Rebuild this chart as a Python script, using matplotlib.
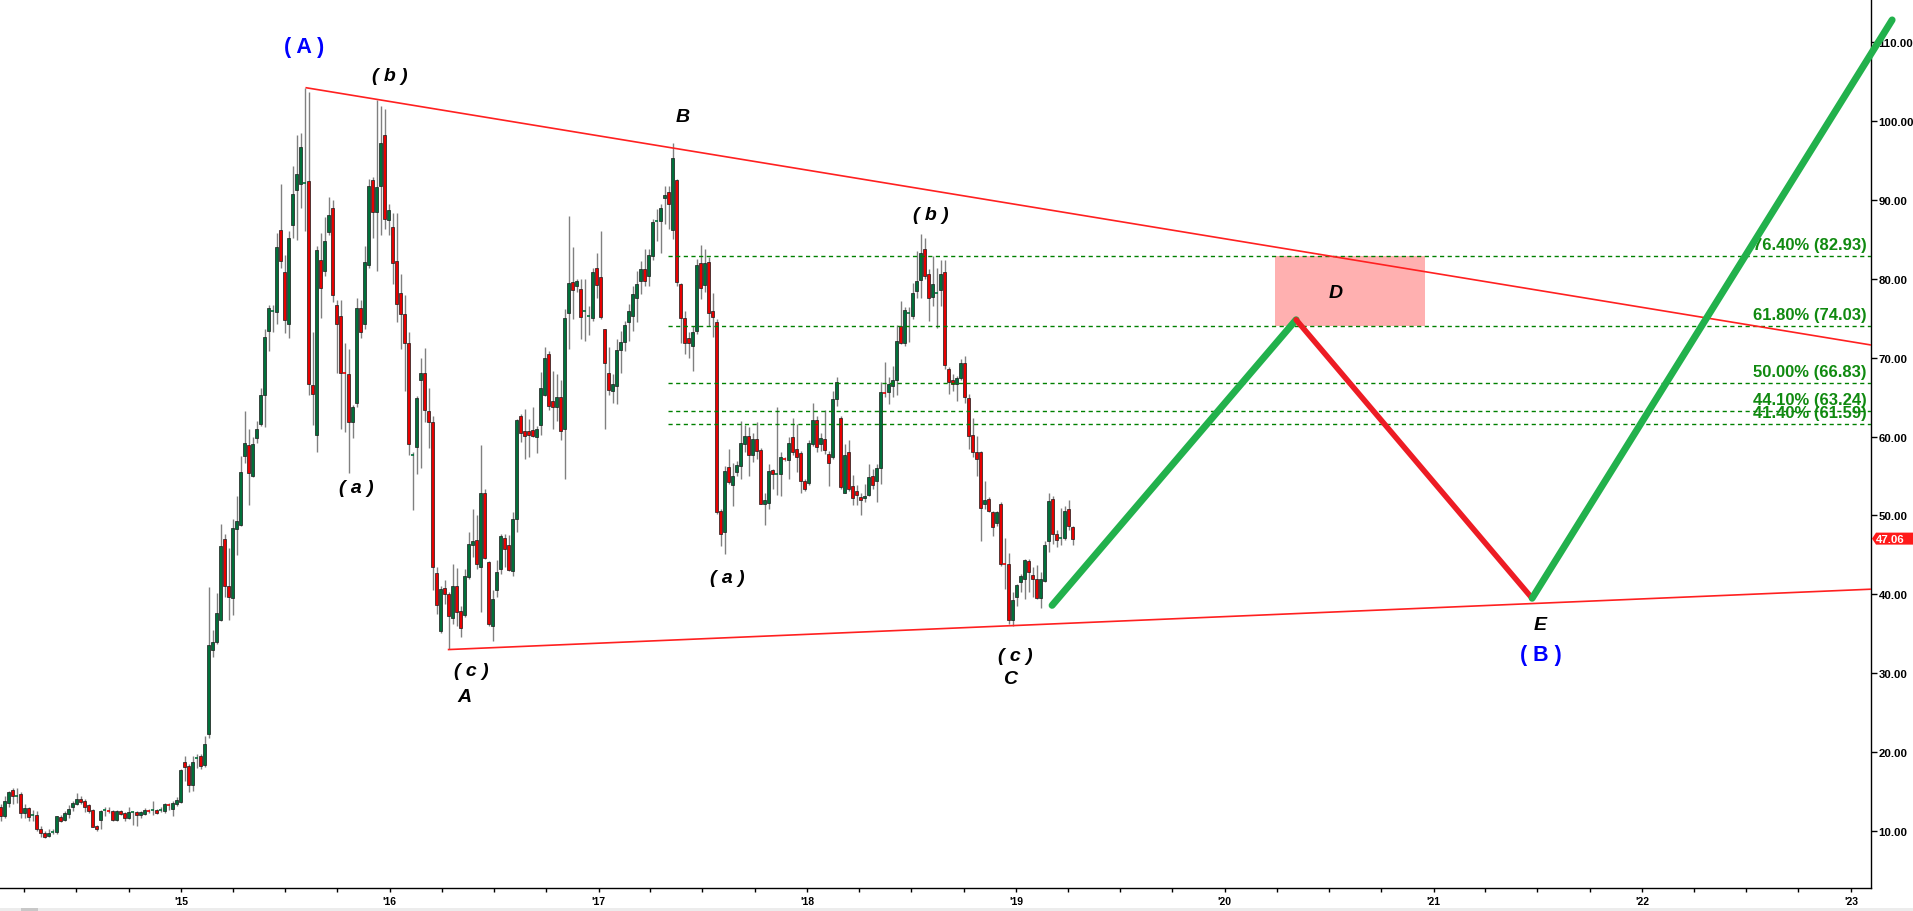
import matplotlib
matplotlib.use("Agg")
import matplotlib.pyplot as plt
import matplotlib.dates as mdates
import matplotlib.transforms as mtransforms
from matplotlib.patches import Rectangle, Polygon
import pandas as pd

plt.rcParams["font.family"] = ["Liberation Sans", "DejaVu Sans"]

# weekly candles, first one in mid Feb 2014
START = "2014-02-19"

OPEN = [
    13.0, 11.9, 13.6, 15.2, 14.4, 14.7, 12.3, 12.9, 12.0, 12.0,
    10.3, 9.8, 9.4, 9.85, 9.9, 11.8, 11.4, 12.1, 13.0, 13.4,
    14.1, 13.8, 13.3, 12.7, 10.6, 11.4, 12.6, 12.65, 12.6, 11.4,
    12.5, 12.3, 11.6, 12.4, 12.4, 12.0, 12.2, 12.6, 12.6, 12.65,
    12.6, 12.5, 13.3, 12.8, 13.4, 13.7, 18.8, 18.2, 15.8, 19.2,
    19.5, 18.4, 22.3, 33.0, 33.9, 36.8, 47.0, 41.0, 39.5, 48.3,
    48.8, 57.5, 58.9, 55.0, 59.8, 61.6, 65.3, 73.4, 75.8, 75.8,
    86.2, 80.9, 74.2, 86.8, 91.3, 92.0, 92.0, 92.4, 66.5, 60.2,
    82.4, 81.0, 85.9, 88.9, 76.7, 75.3, 68.1, 67.9, 61.9, 64.3,
    76.3, 74.2, 81.7, 92.5, 88.4, 91.7, 98.2, 87.4, 86.5, 82.2,
    78.2, 75.5, 71.9, 57.6, 58.7, 67.2, 68.0, 63.2, 61.8, 42.7,
    35.4, 40.8, 40.0, 37.0, 41.0, 37.9, 37.4, 42.2, 46.2, 46.9,
    43.5, 52.8, 44.1, 36.0, 40.5, 43.2, 47.1, 46.2, 42.9, 49.5,
    62.6, 60.7, 60.7, 60.8, 59.9, 61.5, 65.3, 70.5, 64.5, 63.8,
    65.0, 61.0, 75.7, 79.6, 79.1, 78.7, 75.8, 75.2, 75.0, 81.3,
    80.2, 73.6, 68.1, 65.8, 66.4, 71.0, 72.0, 74.5, 75.3, 77.5,
    79.7, 81.2, 80.3, 82.9, 87.2, 87.3, 90.2, 91.0, 86.2, 92.5,
    79.3, 75.0, 72.5, 71.5, 73.4, 82.0, 79.2, 82.1, 75.9, 74.5,
    50.5, 47.9, 56.2, 53.9, 55.5, 56.3, 59.1, 60.1, 57.6, 59.7,
    58.3, 51.5, 51.6, 55.7, 55.2, 55.3, 57.15, 57.0, 59.9, 58.4,
    57.9, 54.3, 54.1, 59.1, 62.1, 59.0, 59.7, 57.8, 57.4, 64.8,
    62.4, 52.9, 58.0, 53.7, 53.1, 52.3, 52.2, 52.6, 55.0, 54.3,
    56.0, 65.55, 65.6, 66.4, 67.1, 74.0, 71.8, 75.55, 75.3, 78.5,
    79.8, 83.8, 80.6, 77.7, 78.1, 78.6, 80.8, 68.5, 67.2, 66.6,
    67.4, 69.3, 64.9, 60.2, 58.0, 58.1, 51.5, 52.1, 50.4, 49.0,
    51.4, 43.95, 43.9, 36.7, 39.7, 41.5, 41.9, 44.2, 42.4, 41.9,
    39.5, 41.7, 46.8, 52.1, 47.6, 47.05, 47.2, 50.8, 48.5,
]

HIGH = [
    13.4, 14.4, 15.1, 15.5, 15.4, 15.0, 13.4, 13.0, 12.7, 12.6,
    10.6, 10.0, 10.2, 10.2, 11.9, 12.0, 12.6, 13.3, 13.8, 14.8,
    14.5, 14.1, 13.4, 12.8, 10.8, 12.7, 13.0, 13.0, 12.7, 12.7,
    12.7, 12.4, 13.0, 12.6, 12.6, 12.6, 12.9, 12.8, 13.8, 12.8,
    13.0, 13.6, 13.6, 13.8, 14.3, 17.9, 19.5, 18.5, 19.5, 19.8,
    19.7, 22.0, 40.9, 35.5, 40.2, 48.9, 47.6, 45.9, 49.6, 52.4,
    57.5, 63.2, 60.9, 60.0, 62.0, 66.2, 73.6, 76.7, 76.7, 85.8,
    92.0, 83.0, 86.1, 94.3, 98.2, 98.5, 104.2, 103.7, 73.2, 84.1,
    85.8, 87.8, 90.3, 90.0, 77.3, 77.3, 71.9, 71.1, 64.0, 77.6,
    77.3, 84.1, 92.6, 92.9, 102.6, 101.9, 101.5, 89.5, 88.3, 88.3,
    80.6, 77.9, 73.2, 58.0, 65.1, 69.9, 71.2, 66.2, 62.6, 43.4,
    41.1, 41.8, 40.3, 43.8, 43.3, 38.5, 43.2, 47.9, 50.8, 50.0,
    58.9, 53.3, 44.2, 40.5, 44.4, 47.6, 47.6, 47.5, 50.4, 62.2,
    62.9, 63.5, 62.2, 63.7, 61.3, 68.2, 71.3, 70.9, 68.3, 67.9,
    67.1, 76.2, 87.9, 84.0, 80.0, 80.0, 80.0, 76.6, 81.4, 83.3,
    86.0, 73.6, 71.3, 67.9, 72.3, 73.4, 74.7, 76.8, 79.1, 81.0,
    82.3, 83.8, 83.8, 87.6, 88.8, 89.5, 91.8, 91.7, 97.2, 92.6,
    79.5, 75.9, 73.2, 74.0, 82.5, 84.3, 83.8, 82.7, 78.2, 74.9,
    50.8, 56.3, 58.4, 56.7, 56.9, 62.0, 61.4, 61.2, 60.5, 61.8,
    58.6, 52.9, 56.5, 55.9, 63.8, 58.0, 57.4, 59.9, 62.4, 61.6,
    58.2, 54.6, 59.5, 64.2, 62.6, 60.5, 63.3, 58.2, 65.8, 67.6,
    62.6, 59.1, 59.6, 55.1, 53.8, 52.8, 54.0, 56.5, 55.9, 56.5,
    66.9, 69.4, 67.5, 69.0, 74.1, 77.2, 76.4, 76.4, 79.4, 83.5,
    85.7, 85.2, 81.2, 82.9, 81.4, 82.4, 82.4, 68.8, 67.9, 67.7,
    69.8, 70.2, 65.4, 62.4, 60.1, 58.2, 54.4, 52.3, 50.6, 50.6,
    51.7, 47.2, 45.3, 40.3, 41.3, 42.6, 44.5, 44.5, 43.4, 43.7,
    42.8, 46.8, 52.8, 52.5, 48.1, 51.0, 51.2, 51.9, 48.7,
]

LOW = [
    11.3, 11.7, 13.0, 13.4, 13.5, 11.6, 11.7, 11.3, 11.3, 10.0,
    9.2, 9.1, 9.3, 9.6, 9.6, 11.1, 11.3, 11.7, 12.6, 13.3,
    13.4, 12.4, 12.3, 10.5, 10.0, 10.3, 11.9, 12.3, 11.3, 11.3,
    12.0, 11.3, 11.5, 10.8, 10.7, 11.7, 12.0, 12.3, 12.0, 12.1,
    12.4, 12.3, 12.7, 11.9, 13.2, 13.6, 16.3, 14.9, 15.1, 18.0,
    17.9, 18.1, 21.8, 32.0, 33.7, 36.6, 39.7, 36.8, 37.4, 45.0,
    48.7, 56.6, 51.3, 54.9, 59.2, 61.3, 61.2, 70.8, 73.3, 74.3,
    81.3, 73.1, 72.5, 85.2, 84.9, 89.0, 86.1, 65.3, 61.5, 58.1,
    75.0, 80.4, 85.5, 77.0, 68.0, 60.9, 60.6, 55.4, 59.8, 63.7,
    72.5, 73.6, 81.3, 85.2, 81.0, 85.5, 86.3, 85.5, 79.3, 74.5,
    71.1, 65.8, 57.6, 50.7, 55.2, 56.0, 61.9, 58.5, 40.5, 37.5,
    35.1, 38.8, 33.1, 36.2, 36.0, 34.6, 37.1, 41.9, 44.7, 43.2,
    37.7, 44.5, 36.0, 34.1, 39.7, 42.6, 43.4, 43.0, 42.3, 47.9,
    59.3, 57.1, 57.4, 59.9, 57.9, 60.2, 65.1, 63.3, 61.0, 62.0,
    59.5, 54.6, 71.1, 74.9, 78.3, 72.4, 72.1, 72.9, 74.7, 77.6,
    74.9, 60.9, 65.2, 64.3, 64.1, 68.1, 70.9, 72.1, 73.4, 74.5,
    78.1, 79.1, 79.1, 82.4, 84.8, 83.3, 86.9, 86.3, 85.0, 79.1,
    71.9, 70.5, 70.0, 68.3, 73.0, 77.4, 78.3, 74.0, 72.6, 50.2,
    46.1, 45.1, 54.0, 51.2, 55.0, 54.6, 58.0, 55.0, 56.8, 57.1,
    51.4, 48.8, 50.8, 53.3, 52.6, 52.5, 56.9, 54.6, 57.6, 55.5,
    52.9, 53.1, 53.8, 58.8, 58.0, 58.2, 57.8, 53.7, 57.1, 63.9,
    53.4, 52.9, 53.1, 51.3, 51.3, 50.1, 51.7, 52.4, 53.3, 51.7,
    54.0, 65.0, 64.1, 65.0, 65.2, 71.7, 71.5, 72.0, 74.9, 77.6,
    77.6, 80.0, 74.6, 76.6, 73.8, 76.6, 68.6, 65.4, 65.8, 64.5,
    67.1, 64.3, 58.4, 57.4, 55.0, 46.8, 50.8, 50.4, 47.4, 48.7,
    43.6, 40.7, 36.2, 36.0, 38.5, 40.3, 39.4, 40.3, 39.6, 39.4,
    38.3, 41.5, 45.4, 46.4, 46.0, 46.2, 46.9, 48.1, 46.2,
]

CLOSE = [
    11.9, 13.8, 15.0, 14.5, 14.5, 12.3, 12.9, 11.8, 12.05, 10.2,
    9.7, 9.3, 9.8, 9.9, 11.9, 11.3, 12.3, 12.8, 13.5, 14.1,
    13.7, 13.0, 12.6, 10.5, 10.3, 12.5, 12.65, 12.6, 11.4, 12.6,
    12.2, 11.6, 12.4, 12.4, 12.0, 12.4, 12.7, 12.55, 12.65, 12.3,
    12.65, 13.4, 13.25, 13.5, 13.9, 17.7, 18.1, 15.8, 18.8, 19.3,
    18.3, 21.0, 33.6, 33.9, 37.6, 46.1, 41.0, 39.6, 48.4, 49.3,
    55.5, 59.2, 55.4, 59.0, 60.9, 65.2, 72.6, 76.3, 75.9, 84.0,
    82.3, 74.8, 85.2, 90.7, 93.3, 96.7, 92.1, 66.6, 65.4, 83.6,
    78.8, 84.8, 88.1, 77.9, 74.2, 68.0, 68.0, 61.9, 63.7, 76.3,
    73.3, 82.1, 91.8, 88.4, 91.6, 97.2, 87.6, 88.7, 82.0, 76.8,
    75.5, 71.8, 59.0, 57.7, 64.9, 68.1, 63.4, 61.8, 43.4, 38.6,
    40.7, 40.0, 37.2, 41.0, 37.8, 35.7, 42.3, 46.4, 46.8, 43.8,
    52.9, 44.6, 36.3, 39.4, 42.8, 47.4, 45.8, 43.1, 49.5, 62.1,
    60.5, 60.1, 60.2, 60.1, 60.9, 66.2, 70.0, 63.9, 63.7, 65.0,
    60.7, 75.0, 79.4, 78.6, 79.7, 75.2, 75.9, 75.3, 80.9, 79.2,
    75.1, 69.3, 65.9, 66.7, 71.0, 72.0, 74.1, 75.9, 78.0, 79.3,
    81.2, 79.7, 83.0, 87.2, 87.3, 89.0, 90.6, 89.5, 95.3, 79.6,
    75.0, 71.9, 71.9, 73.2, 81.8, 78.8, 82.0, 75.7, 75.2, 50.4,
    47.7, 55.6, 54.2, 55.0, 56.4, 59.2, 60.1, 57.6, 59.7, 58.2,
    51.5, 51.9, 55.6, 55.3, 55.25, 57.4, 57.1, 59.2, 58.1, 57.4,
    54.3, 53.4, 59.2, 62.1, 58.7, 59.8, 58.3, 56.7, 64.7, 66.9,
    53.6, 57.7, 53.4, 52.2, 52.6, 51.9, 52.5, 54.9, 53.9, 56.0,
    65.6, 65.5, 66.7, 67.1, 72.1, 71.9, 76.0, 75.6, 78.2, 79.7,
    83.3, 80.4, 77.6, 79.3, 78.2, 80.6, 69.1, 66.9, 66.6, 67.4,
    69.3, 65.0, 60.1, 58.0, 57.2, 51.0, 52.0, 50.6, 48.5, 50.4,
    43.9, 43.9, 36.7, 39.3, 41.2, 42.3, 44.4, 42.8, 41.9, 39.5,
    41.9, 46.3, 51.8, 47.6, 46.9, 47.1, 50.6, 48.6, 47.06,
]

# fibonacci retracement levels
FIB_NAMES = ["76.40%", "61.80%", "50.00%", "44.10%", "41.40%"]
FIB_PRICES = [82.93, 74.03, 66.83, 63.24, 61.59]
FIB_START = "2017-05-02"

# triangle borders
UPPER_DATES = ["2015-08-08", "2023-02-05"]
UPPER_PRICES = [104.2, 71.6]
LOWER_DATES = ["2016-04-13", "2023-02-05"]
LOWER_PRICES = [33.0, 40.65]

# projected path: up to D, down to E, then up
PATH_DATES = ["2019-03-05", "2020-05-05", "2021-06-22", "2023-03-14"]
PATH_PRICES = [38.6, 74.8, 39.5, 112.8]

ZONE_DATES = ["2020-03-29", "2020-12-17"]
ZONE_PRICES = [74.03, 82.93]

WAVE_LABELS = ["( b )", "B", "( a )", "( c )", "A", "( a )", "( b )", "( c )", "C", "D", "E"]
WAVE_DATES = ["2016-01-01", "2017-05-28", "2015-11-04", "2016-05-22", "2016-05-11",
              "2017-08-13", "2018-08-05", "2018-12-30", "2018-12-21", "2020-07-14", "2021-07-06"]
WAVE_PRICES = [105.8, 100.5, 53.6, 30.3, 27.0, 42.1, 88.1, 32.3, 29.3, 78.2, 36.2]

DEGREE_LABELS = ["( A )", "( B )"]
DEGREE_DATES = ["2015-08-05", "2021-07-08"]
DEGREE_PRICES = [109.4, 32.4]

LAST_PRICE = 47.06
YEARS = list(range(2015, 2024))

GREEN_BODY = "#00703a"
RED_BODY = "#e80000"


def main():
    fig = plt.figure(figsize=(19.13, 9.12), dpi=100)
    ax = fig.add_axes([0, 1 - 889 / 912, 1871 / 1913, 889 / 912])

    dates = pd.date_range(START, periods=len(CLOSE), freq="7D")
    x = mdates.date2num(dates)

    # candles
    for xi, o, h, l, c in zip(x, OPEN, HIGH, LOW, CLOSE):
        ax.vlines(xi, l, h, color="#808080", lw=1, zorder=2)
        up = c >= o
        col = GREEN_BODY if up else RED_BODY
        bottom = min(o, c)
        height = abs(c - o)
        if height < 0.15:
            ax.hlines(c, xi - 2.3, xi + 2.3, color=col, lw=1.2, zorder=3)
        else:
            ax.bar(xi, height, bottom=bottom, width=4.6, color=col,
                   edgecolor="#1a1a1a", linewidth=0.5, zorder=3)

    # fibonacci lines
    fx0 = mdates.date2num(pd.Timestamp(FIB_START))
    fx1 = mdates.date2num(pd.Timestamp(UPPER_DATES[1]))
    for name, p in zip(FIB_NAMES, FIB_PRICES):
        ax.plot([fx0, fx1], [p, p], color="#008000", lw=1, ls=(0, (3, 2.5)), zorder=4)
        ax.annotate(f"{name} ({p:.2f})", xy=(fx1, p), xytext=(-3, 2.5),
                    textcoords="offset points", ha="right", va="bottom",
                    color="#108a10", fontsize=12, fontweight="bold", zorder=6)

    # target zone for D
    zx = mdates.date2num(pd.to_datetime(ZONE_DATES))
    ax.add_patch(Rectangle((zx[0], ZONE_PRICES[0]), zx[1] - zx[0],
                           ZONE_PRICES[1] - ZONE_PRICES[0],
                           facecolor="#ffb0b0", edgecolor="none", zorder=1))

    # triangle lines
    ax.plot(mdates.date2num(pd.to_datetime(UPPER_DATES)), UPPER_PRICES,
            color="#ff2020", lw=1.2, zorder=5)
    ax.plot(mdates.date2num(pd.to_datetime(LOWER_DATES)), LOWER_PRICES,
            color="#ff2020", lw=1.2, zorder=5)

    # projected path
    px = mdates.date2num(pd.to_datetime(PATH_DATES))
    ax.plot(px[0:2], PATH_PRICES[0:2], color="#22b14c", lw=5,
            solid_capstyle="round", zorder=7)
    ax.plot(px[1:3], PATH_PRICES[1:3], color="#ed1c24", lw=4,
            solid_capstyle="round", zorder=7)
    ax.plot(px[2:4], PATH_PRICES[2:4], color="#22b14c", lw=5,
            solid_capstyle="round", zorder=7, clip_on=False)

    # wave labels
    for t, d, p in zip(WAVE_LABELS, WAVE_DATES, WAVE_PRICES):
        ax.text(mdates.date2num(pd.Timestamp(d)), p, t, ha="center", va="center",
                fontsize=14, fontweight="bold", fontstyle="italic", color="black", zorder=8)
    for t, d, p in zip(DEGREE_LABELS, DEGREE_DATES, DEGREE_PRICES):
        ax.text(mdates.date2num(pd.Timestamp(d)), p, t, ha="center", va="center",
                fontsize=15.5, fontweight="bold", color="#0000ff", zorder=8)

    # axes limits and ticks
    ax.set_xlim(mdates.date2num(pd.Timestamp("2014-02-18")),
                mdates.date2num(pd.Timestamp("2023-02-05")))
    ax.set_ylim(2.78, 115.45)

    ax.set_xticks(mdates.date2num([pd.Timestamp(f"{y}-01-01") for y in YEARS]))
    ax.set_xticklabels([f"'{y % 100:02d}" for y in YEARS])
    ax.xaxis.set_minor_locator(mdates.MonthLocator(bymonth=[4, 7, 10]))
    ax.tick_params(axis="x", which="both", direction="out", length=3, width=1,
                   pad=2.5, labelsize=7.5)
    for lab in ax.get_xticklabels():
        lab.set_fontweight("bold")
        lab.set_family(["Liberation Sans Narrow", "Liberation Sans"])

    ax.yaxis.tick_right()
    ax.set_yticks(range(10, 111, 10))
    ax.set_yticklabels([f"{v:.2f}" for v in range(10, 111, 10)])
    ax.tick_params(axis="y", which="both", direction="out", length=4, width=1,
                   pad=1.5, labelsize=8.2)
    for lab in ax.get_yticklabels():
        lab.set_fontweight("bold")

    for s in ["top", "left"]:
        ax.spines[s].set_visible(False)
    for s in ["right", "bottom"]:
        ax.spines[s].set_color("black")
        ax.spines[s].set_linewidth(1)

    # last price tag: red flag from the price axis to the edge of the picture
    trans = mtransforms.blended_transform_factory(fig.transFigure, ax.transData)
    half = 6 / 889 * (115.45 - 2.78)
    x0 = 1872 / 1913
    notch = 4 / 1913
    tag = Polygon([(x0, LAST_PRICE), (x0 + notch, LAST_PRICE + half), (1.0, LAST_PRICE + half),
                   (1.0, LAST_PRICE - half), (x0 + notch, LAST_PRICE - half)],
                  closed=True, transform=trans, facecolor="#ff1a1a", edgecolor="none",
                  clip_on=False, zorder=9)
    ax.add_artist(tag)
    ax.text(1876 / 1913, LAST_PRICE, f"{LAST_PRICE:.2f}", transform=trans, ha="left",
            va="center", color="white", fontsize=8.2, fontweight="bold", zorder=10)

    # scroll bar at the bottom
    fig.patches.append(Rectangle((0, 0), 1, 3 / 912, transform=fig.transFigure,
                                 facecolor="#ececec", edgecolor="none"))
    fig.patches.append(Rectangle((21 / 1913, 0), 17 / 1913, 3 / 912, transform=fig.transFigure,
                                 facecolor="#c8c8c8", edgecolor="none"))

    fig.savefig("out.png", dpi=100, facecolor="white")
    plt.close(fig)


if __name__ == "__main__":
    main()
